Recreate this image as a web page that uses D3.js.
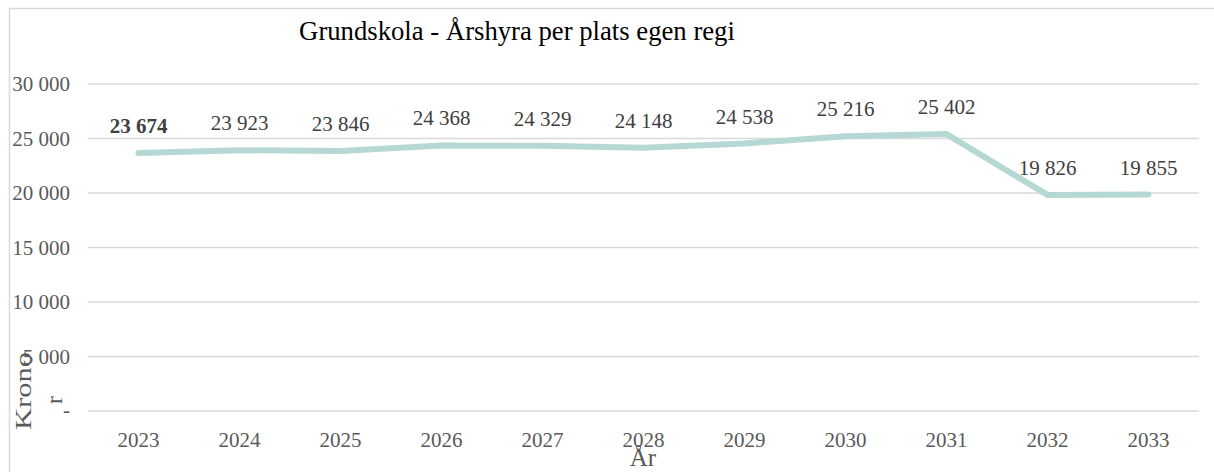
<!DOCTYPE html>
<html>
<head>
<meta charset="utf-8">
<script src="https://cdn.jsdelivr.net/npm/d3@7"></script>
<style>
  body { margin: 0; background: #fff; }
  svg text { font-family: "Liberation Serif", "Times New Roman", serif; }
</style>
</head>
<body>
<div id="chart-area"></div>
<script>
// Data
var years = ["2023","2024","2025","2026","2027","2028","2029","2030","2031","2032","2033"];
var rent = [23674, 23923, 23846, 24368, 24329, 24148, 24538, 25216, 25402, 19826, 19855];
var yTicks = [0, 5000, 10000, 15000, 20000, 25000, 30000];

var W = 1214, H = 472;
var margin = {top:84, bottom:61, left:88, right:15};
var width = W - margin.left - margin.right;
var height = H - margin.top - margin.bottom;

var svg = d3.select("#chart-area").append("svg")
    .attr("width", W).attr("height", H);

// outer frame
svg.append("rect")
    .attr("x", 9.5).attr("y", 8.5)
    .attr("width", W + 20).attr("height", H + 20)
    .attr("fill", "none").attr("stroke", "#d9d9d9").attr("stroke-width", 1.5);

var canvas = svg.append("g")
    .attr("transform", "translate(" + margin.left + "," + margin.top + ")");

var x = d3.scaleBand().domain(years).range([0, width]);
var y = d3.scaleLinear().domain([0, 30000]).range([height, 0]);

var fmt = function(v){ return v === 0 ? "-" : d3.format(",")(v).replace(/,/g, " "); };

// grid
canvas.selectAll(".grid").data(yTicks).enter().append("line")
    .attr("x1", 0).attr("x2", width)
    .attr("y1", function(d){ return y(d); }).attr("y2", function(d){ return y(d); })
    .attr("stroke", "#d9d9d9").attr("stroke-width", 1.5);

// y axis
var yAxis = canvas.append("g")
    .call(d3.axisLeft(y).tickValues(yTicks).tickFormat(fmt).tickSize(0).tickPadding(18));
yAxis.select(".domain").remove();
yAxis.selectAll("text")
    .attr("font-family", "Liberation Serif").attr("font-size", "21px").attr("fill", "#595959")
    .attr("dy", function(d){ return d === 0 ? "0.25em" : "0.32em"; });

// x axis
var xAxis = canvas.append("g")
    .attr("transform", "translate(0," + height + ")")
    .call(d3.axisBottom(x).tickSize(0).tickPadding(21));
xAxis.select(".domain").remove();
xAxis.selectAll("text")
    .attr("font-family", "Liberation Serif").attr("font-size", "21px").attr("fill", "#595959");

// line
var line = d3.line()
    .x(function(d, i){ return x(years[i]) + x.bandwidth() / 2; })
    .y(function(d){ return y(d); });

canvas.append("path")
    .datum(rent)
    .attr("d", line)
    .attr("fill", "none")
    .attr("stroke", "#b5d8d4")
    .attr("stroke-width", 6)
    .attr("stroke-linecap", "round")
    .attr("stroke-linejoin", "round");

// data labels
canvas.selectAll(".lbl").data(rent).enter().append("text")
    .attr("x", function(d, i){ return x(years[i]) + x.bandwidth() / 2; })
    .attr("y", function(d){ return y(d) - 20; })
    .attr("text-anchor", "middle")
    .attr("font-size", "21px")
    .attr("font-weight", function(d, i){ return i === 0 ? "bold" : "normal"; })
    .attr("fill", "#404040")
    .text(fmt);

// title
svg.append("text")
    .attr("x", 517).attr("y", 40)
    .attr("text-anchor", "middle")
    .attr("font-size", "26.7px").attr("fill", "#000")
    .text("Grundskola - Årshyra per plats egen regi");

// axis titles
svg.append("text")
    .attr("transform", "translate(31,391) rotate(-90)")
    .attr("text-anchor", "middle")
    .attr("font-size", "24px").attr("fill", "#595959")
    .attr("textLength", 78).attr("lengthAdjust", "spacingAndGlyphs")
    .text("Krono");
svg.append("text")
    .attr("transform", "translate(62,400) rotate(-90)")
    .attr("text-anchor", "middle")
    .attr("font-size", "24px").attr("fill", "#595959")
    .text("r");

svg.append("text")
    .attr("x", 643).attr("y", 466)
    .attr("text-anchor", "middle")
    .attr("font-size", "25px").attr("fill", "#595959")
    .text("År");
</script>
</body>
</html>
